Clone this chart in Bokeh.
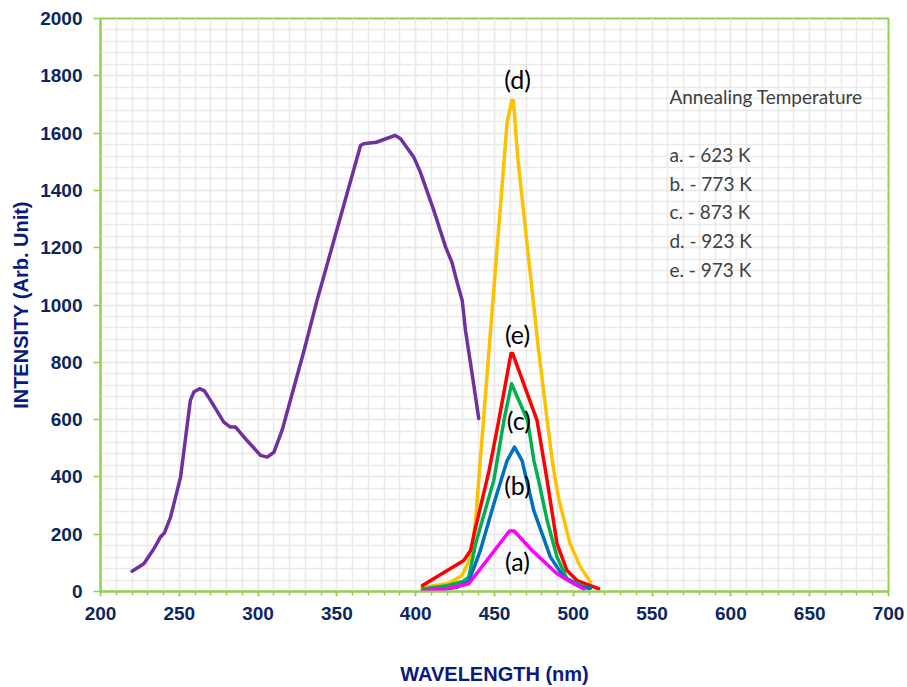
from bokeh.plotting import figure
from bokeh.models import Range1d, SingleIntervalTicker, ColumnDataSource
from bokeh.core.properties import value
from bokeh.embed import file_html
from bokeh.resources import INLINE

# Purple spectrum
wl_p = [220, 227.5, 234, 238, 240.5, 244.4, 250.8, 257, 259.2, 262.8, 266, 269.8, 273, 278.2,
        282.5, 285.7, 293, 301.5, 305.8, 310, 315.2, 329, 337.4, 365, 367, 375, 382, 387, 390.4,
        398.8, 403, 411.5, 419, 423, 426, 429.5, 431.6, 435.8, 440]
int_p = [71, 97, 150, 190, 204, 259, 399, 667, 696, 708, 700, 667, 638, 591,
         574, 574, 527, 475, 469, 486, 562, 838, 1016, 1557, 1563, 1568, 1582, 1592, 1580,
         1516, 1463, 1330, 1202, 1149, 1085, 1016, 911, 760, 604]

# (a) 623 K
wl_a = [404.1, 420, 433.7, 459.5, 462.5, 473.9, 489.7, 500.3, 506.7]
int_a = [3, 10, 27, 211, 211, 143, 62, 27, 9]
# (b) 773 K
wl_b = [409.4, 426.3, 433.7, 441, 449.6, 458, 462.7, 467.5, 474.9, 485.5, 494, 504.6, 510.9]
int_b = [1, 15, 36, 143, 306, 457, 504, 457, 283, 120, 50, 17, 12]
# (c) 873 K
wl_c = [404.5, 420, 430, 433.7, 438, 449.5, 456, 460.8, 471, 475, 478, 483.4, 489.7, 496, 510]
int_c = [9, 20, 35, 50, 166, 387, 597, 725, 597, 457, 387, 248, 120, 44, 9]
# (d) 923 K
wl_d = [404, 421, 429.4, 434.8, 438, 440, 447.5, 458, 461, 462, 464.7, 478, 486.6, 488.7, 491,
        498, 504.6, 511]
int_d = [13, 29, 56, 120, 248, 387, 911, 1637, 1714, 1714, 1516, 841, 457, 387, 318,
         166, 85, 32]
# (e) 973 K
wl_e = [404.3, 424.2, 430.5, 434.8, 438, 446.5, 452.7, 460.5, 461.5, 477, 481.3, 483.4, 489.7,
        496, 502.4, 516]
int_e = [21, 87, 108, 143, 224, 420, 597, 831, 831, 597, 457, 387, 166, 73, 38, 10]

curve_labels = ["(a)", "(b)", "(c)", "(d)", "(e)"]
legend_title = "Annealing Temperature"
legend_lines = ["a. - 623 K", "b. - 773 K", "c. - 873 K", "d. - 923 K", "e. - 973 K"]

# annotation anchor positions (data coordinates)
curve_label_x = [464.6, 464.6, 465.5, 464.6, 464.6]
curve_label_y = [105, 373, 597, 1790, 900]
legend_x = 561
legend_title_y = 1728
legend_y = [1525, 1424, 1326, 1225, 1124]

AXIS_GREEN = "#92d050"
NAVY = "#0d2660"
TITLE_NAVY = "#0a1a82"

p = figure(width=907, height=687, output_backend="svg", toolbar_location=None,
           x_range=Range1d(200, 700), y_range=Range1d(0, 2000),
           min_border_left=100, min_border_right=19, min_border_top=18, min_border_bottom=96)
p.background_fill_color = "white"
p.border_fill_color = "white"
p.outline_line_color = AXIS_GREEN
p.outline_line_width = 2

p.xaxis.ticker = SingleIntervalTicker(interval=50, num_minor_ticks=5)
p.yaxis.ticker = SingleIntervalTicker(interval=200, num_minor_ticks=5)

for ax in (p.xaxis, p.yaxis):
    ax.axis_line_color = AXIS_GREEN
    ax.axis_line_width = 2
    ax.major_tick_line_color = AXIS_GREEN
    ax.major_tick_line_width = 1.5
    ax.major_tick_in = 0
    ax.major_label_text_font = "Liberation Sans"
    ax.major_label_text_font_style = "bold"
    ax.major_label_text_font_size = "19px"
    ax.major_label_text_color = NAVY
    ax.axis_label_text_font = "Liberation Sans"
    ax.axis_label_text_font_style = "bold"
    ax.axis_label_text_font_size = "20px"
    ax.axis_label_text_color = TITLE_NAVY

p.xaxis.axis_label = "WAVELENGTH (nm)"
p.yaxis.axis_label = "INTENSITY (Arb. Unit)"
p.xaxis.major_tick_out = 5
p.xaxis.minor_tick_out = 4
p.xaxis.minor_tick_in = 0
p.xaxis.minor_tick_line_color = AXIS_GREEN
p.xaxis.minor_tick_line_width = 1.5
p.xaxis.major_label_standoff = 10
p.xaxis.axis_label_standoff = 40
p.yaxis.major_tick_out = 7
p.yaxis.minor_tick_line_color = None
p.yaxis.major_label_standoff = 11
p.yaxis.axis_label_standoff = 5

GRID = "#e9e9e9"
for g in (p.xgrid, p.ygrid):
    g.grid_line_color = GRID
    g.grid_line_width = 1.5
    g.minor_grid_line_color = GRID
    g.minor_grid_line_width = 1.5

lw = 3.5
p.line(wl_p, int_p, line_color="#7030a0", line_width=lw, line_join="round", line_cap="round")
p.line(wl_d, int_d, line_color="#ffc000", line_width=lw, line_join="round", line_cap="round")
p.line(wl_e, int_e, line_color="#ff0000", line_width=lw, line_join="round", line_cap="round")
p.line(wl_c, int_c, line_color="#00b050", line_width=lw, line_join="round", line_cap="round")
p.line(wl_b, int_b, line_color="#0070c0", line_width=lw, line_join="round", line_cap="round")
p.line(wl_a, int_a, line_color="#ff00ff", line_width=lw, line_join="round", line_cap="round")

lab_src = ColumnDataSource(dict(x=curve_label_x, y=curve_label_y, t=curve_labels))
p.text(x="x", y="y", text="t", source=lab_src, text_font=value("Lato"),
       text_font_size="25px", text_color="black", text_align="center", text_baseline="middle")

leg_src = ColumnDataSource(dict(x=[legend_x] * (len(legend_lines) + 1),
                                y=[legend_title_y] + legend_y,
                                t=[legend_title] + legend_lines))
p.text(x="x", y="y", text="t", source=leg_src, text_font=value("Lato"),
       text_font_size="19px", text_color="#404040", text_align="left", text_baseline="middle")

open("out.html", "w").write(file_html(p, INLINE))
